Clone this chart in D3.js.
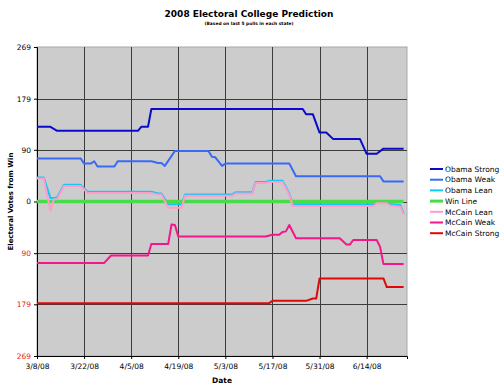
<!DOCTYPE html>
<html>
<head>
<meta charset="utf-8">
<script src="https://cdn.jsdelivr.net/npm/d3@7"></script>
<style>
  body { margin: 0; background: #fff; }
  text { font-family: "DejaVu Sans", Verdana, sans-serif; }
</style>
</head>
<body>
<svg id="chart" width="500" height="388"></svg>
<script>
// series as [date, electoral votes from win]
const obamaStrong = [["3/8/08",130],["3/12/08",130],["3/14/08",123],["4/7/08",123],["4/8/08",130],["4/10/08",130],["4/11/08",161],["5/26/08",161],["5/27/08",152],["5/29/08",152],["5/31/08",120],["6/2/08",120],["6/4/08",109],["6/12/08",109],["6/14/08",83],["6/17/08",83],["6/19/08",92],["6/25/08",92]]
const obamaWeak = [["3/8/08",75],["3/21/08",75],["3/22/08",66],["3/24/08",66],["3/25/08",70],["3/26/08",61],["3/31/08",61],["4/1/08",70],["4/11/08",70],["4/13/08",67],["4/14/08",67],["4/15/08",62],["4/18/08",88],["4/28/08",88],["4/29/08",78],["4/30/08",77],["5/2/08",62],["5/3/08",66],["5/22/08",66],["5/24/08",44],["6/18/08",44],["6/19/08",35],["6/25/08",35]]
const obamaLean = [["3/8/08",42],["3/10/08",42],["3/12/08",6],["3/13/08",6],["3/14/08",7],["3/16/08",29],["3/21/08",29],["3/23/08",17],["4/11/08",17],["4/13/08",14],["4/14/08",14],["4/16/08",-5],["4/20/08",-5],["4/21/08",12],["5/5/08",12],["5/6/08",16],["5/11/08",16],["5/12/08",34],["5/15/08",34],["5/16/08",36],["5/20/08",36],["5/22/08",14],["5/23/08",-5],["6/16/08",-5],["6/17/08",-2],["6/20/08",-2],["6/21/08",-5],["6/24/08",-6],["6/25/08",-21]]
const winLine = [["3/8/08",0],["6/25/08",0]]
const mccainLean = [["3/8/08",40],["3/10/08",40],["3/12/08",-16],["3/13/08",4],["3/14/08",4],["3/16/08",27],["3/21/08",27],["3/23/08",15],["4/11/08",15],["4/13/08",12],["4/14/08",12],["4/16/08",-11],["4/20/08",-11],["4/21/08",10],["5/5/08",10],["5/6/08",14],["5/11/08",14],["5/12/08",32],["5/15/08",32],["5/16/08",34],["5/20/08",34],["5/22/08",12],["5/23/08",-8],["6/16/08",-8],["6/17/08",-3],["6/20/08",-3],["6/21/08",-7],["6/24/08",-9],["6/25/08",-23]]
const mccainWeak = [["3/8/08",-107],["3/28/08",-107],["3/30/08",-94],["4/10/08",-94],["4/11/08",-74],["4/16/08",-74],["4/17/08",-40],["4/18/08",-41],["4/19/08",-61],["5/15/08",-61],["5/17/08",-58],["5/19/08",-58],["5/20/08",-53],["5/21/08",-52],["5/22/08",-41],["5/24/08",-64],["6/6/08",-64],["6/8/08",-75],["6/9/08",-75],["6/10/08",-67],["6/17/08",-67],["6/18/08",-79],["6/19/08",-109],["6/25/08",-109]]
const mccainStrong = [["3/8/08",-177],["5/16/08",-177],["5/17/08",-173],["5/27/08",-173],["5/29/08",-169],["5/30/08",-169],["5/31/08",-134],["6/19/08",-134],["6/20/08",-149],["6/25/08",-149]]

const seriesNames = ["Obama Strong", "Obama Weak", "Obama Lean", "Win Line", "McCain Lean", "McCain Weak", "McCain Strong"]
const seriesData = [obamaStrong, obamaWeak, obamaLean, winLine, mccainLean, mccainWeak, mccainStrong]
const seriesColors = ["#0a0acc", "#3a6af5", "#10c8f8", "#48dc48", "#ff9ccc", "#f5168c", "#e00808"]

const xTickLabels = ["3/8/08", "3/22/08", "4/5/08", "4/19/08", "5/3/08", "5/17/08", "5/31/08", "6/14/08"]
const yTicks = [269, 179, 90, 0, -90, -179, -269]

const parse = d3.timeParse("%m/%d/%y")
const plot_left = 37, plot_right = 407, plot_top = 47, plot_bottom = 356

var svg = d3.select("#chart")

var x = d3.scaleTime()
    .domain([parse("3/8/08"), parse("6/26/08")])
    .range([plot_left, plot_right])
var y = d3.scaleLinear()
    .domain([-269, 269])
    .range([plot_bottom, plot_top])

// plot background
svg.append("rect")
    .attr("x", plot_left).attr("y", plot_top)
    .attr("width", plot_right - plot_left).attr("height", plot_bottom - plot_top)
    .attr("fill", "#cccccc")
    .attr("stroke", "#a8a8a8")

// gridlines
svg.append("g")
    .selectAll("line.hgrid")
    .data(yTicks.slice(1, -1))
    .join("line")
        .attr("x1", plot_left).attr("x2", plot_right)
        .attr("y1", d => Math.round(y(d)) + 0.5).attr("y2", d => Math.round(y(d)) + 0.5)
        .attr("stroke", "#3c3c3c")
svg.append("g")
    .selectAll("line.vgrid")
    .data(xTickLabels.slice(1))
    .join("line")
        .attr("x1", d => Math.round(x(parse(d))) + 0.5).attr("x2", d => Math.round(x(parse(d))) + 0.5)
        .attr("y1", plot_top).attr("y2", plot_bottom)
        .attr("stroke", "#3c3c3c")

// axes
var yAxis = svg.append("g")
    .attr("transform", "translate(" + plot_left + ",0)")
    .call(d3.axisLeft(y).tickValues(yTicks).tickSize(3).tickPadding(3).tickFormat(d => Math.abs(d)))
yAxis.select(".domain").attr("stroke", "#000")
yAxis.selectAll("text")
    .attr("font-size", 7.5)
    .attr("font-family", "DejaVu Sans")
    .attr("fill", d => d < 0 ? "#e82020" : "#000")

var xAxis = svg.append("g")
    .attr("transform", "translate(0," + plot_bottom + ")")
    .call(d3.axisBottom(x).tickValues(xTickLabels.map(parse)).tickSize(3).tickPadding(5).tickFormat(d3.timeFormat("%-m/%-d/%y")))
xAxis.select(".domain").attr("stroke", "#000")
xAxis.selectAll("text")
    .attr("font-size", 7.5)
    .attr("font-family", "DejaVu Sans")
    .attr("fill", "#000")

// series lines
var line = d3.line()
    .x(d => x(parse(d[0])))
    .y(d => y(d[1]))

svg.append("g")
    .selectAll("path")
    .data(seriesData)
    .join("path")
        .attr("d", line)
        .attr("fill", "none")
        .attr("stroke", (d, i) => seriesColors[i])
        .attr("stroke-width", (d, i) => seriesNames[i] == "Win Line" ? 3.5 : 2)
        .attr("stroke-linejoin", "round")

// titles
svg.append("text")
    .attr("x", 249).attr("y", 17)
    .attr("text-anchor", "middle")
    .attr("font-weight", "bold")
    .attr("font-size", 9)
    .text("2008 Electoral College Prediction")
svg.append("text")
    .attr("x", 249).attr("y", 25)
    .attr("text-anchor", "middle")
    .attr("font-weight", "bold")
    .attr("font-size", 4.4)
    .text("(Based on last 5 polls in each state)")
svg.append("text")
    .attr("x", (plot_left + plot_right) / 2).attr("y", 383)
    .attr("text-anchor", "middle")
    .attr("font-weight", "bold")
    .attr("font-size", 7.5)
    .text("Date")
svg.append("text")
    .attr("transform", "translate(13," + (plot_top + plot_bottom) / 2 + ") rotate(-90)")
    .attr("text-anchor", "middle")
    .attr("font-weight", "bold")
    .attr("font-size", 7)
    .text("Electoral Votes from Win")

// legend
var legend = svg.append("g")
    .selectAll("g")
    .data(seriesNames)
    .join("g")
        .attr("transform", (d, i) => "translate(430," + (169 + i * 10.7) + ")")
legend.append("line")
    .attr("x1", 0).attr("x2", 13)
    .attr("stroke", (d, i) => seriesColors[i])
    .attr("stroke-width", d => d == "Win Line" ? 3 : 2)
legend.append("text")
    .attr("x", 15).attr("y", 2.7)
    .attr("font-size", 7.5)
    .text(d => d)
</script>
</body>
</html>
